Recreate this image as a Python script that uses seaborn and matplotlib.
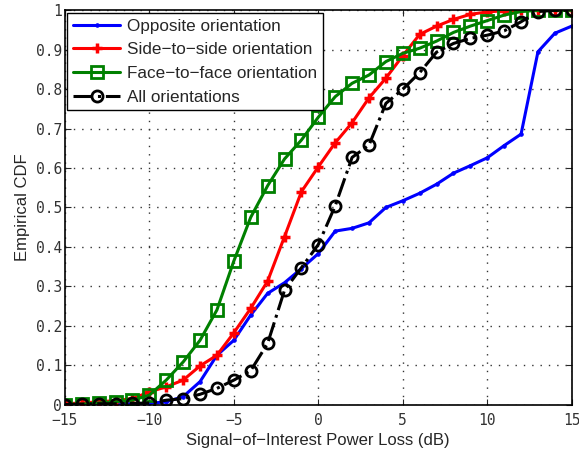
import seaborn as sns
import matplotlib.pyplot as plt
import pandas as pd
import numpy as np

# Signal-of-interest power loss grid (dB)
loss_db = list(range(-15, 16))

opposite = [0.000, 0.000, 0.000, 0.001, 0.002, 0.003, 0.007, 0.020, 0.058, 0.125,
            0.163, 0.227, 0.282, 0.309, 0.345, 0.383, 0.440, 0.447, 0.461, 0.500,
            0.517, 0.536, 0.559, 0.587, 0.606, 0.626, 0.657, 0.686, 0.895, 0.942, 0.960]
side_to_side = [0.002, 0.004, 0.007, 0.010, 0.015, 0.032, 0.045, 0.062, 0.098, 0.125,
                0.182, 0.244, 0.313, 0.426, 0.540, 0.603, 0.664, 0.715, 0.778, 0.828,
                0.885, 0.939, 0.960, 0.977, 0.990, 0.996, 0.999, 1.000, 1.000, 1.000, 1.000]
face_to_face = [0.000, 0.001, 0.004, 0.007, 0.011, 0.024, 0.062, 0.108, 0.163, 0.240,
                0.364, 0.475, 0.555, 0.623, 0.671, 0.729, 0.781, 0.815, 0.836, 0.870,
                0.891, 0.904, 0.922, 0.944, 0.960, 0.974, 0.988, 0.997, 1.000, 1.000, 1.000]
all_orient = [0.000, 0.001, 0.002, 0.002, 0.003, 0.004, 0.011, 0.015, 0.026, 0.041,
              0.062, 0.086, 0.155, 0.290, 0.347, 0.406, 0.504, 0.627, 0.658, 0.764,
              0.800, 0.842, 0.894, 0.916, 0.929, 0.937, 0.948, 0.971, 0.997, 1.000, 1.000]

names = ["Opposite orientation", "Side\u2212to\u2212side orientation",
         "Face\u2212to\u2212face orientation", "All orientations"]
series = [opposite, side_to_side, face_to_face, all_orient]

df = pd.concat([pd.DataFrame({"loss": loss_db, "cdf": v, "case": n})
                for n, v in zip(names, series)], ignore_index=True)

styles = {
    names[0]: dict(color=(0, 0, 1), marker=".", markersize=5, linestyle="-",
                   markerfacecolor=(0, 0, 1), markeredgecolor=(0, 0, 1)),
    names[1]: dict(color=(1, 0, 0), marker="+", markersize=7, linestyle="-",
                   markeredgewidth=2.5, markeredgecolor=(1, 0, 0)),
    names[2]: dict(color=(0, 0.5, 0), marker="s", markersize=8, linestyle="-",
                   markerfacecolor="none", markeredgewidth=2, markeredgecolor=(0, 0.5, 0)),
    names[3]: dict(color="black", marker="o", markersize=8, linestyle="-.",
                   markerfacecolor="none", markeredgewidth=2, markeredgecolor="black"),
}

sns.set_style("ticks")
plt.rcParams["font.family"] = ["Liberation Sans", "DejaVu Sans"]

fig = plt.figure(figsize=(5.79, 4.5), dpi=100)
ax = fig.add_axes([0.112, 0.101, 0.8755, 0.876])

for n in names:
    sub = df[df["case"] == n]
    sns.lineplot(data=sub, x="loss", y="cdf", ax=ax, label=n, linewidth=2.2,
                 estimator=None, sort=False, **styles[n])

ax.set_xlim(-15, 15)
ax.set_ylim(0, 1)
ax.set_xticks(np.arange(-15, 16, 5))
ax.set_yticks(np.arange(0, 1.01, 0.1))
ax.set_yticklabels(["0", "0.1", "0.2", "0.3", "0.4", "0.5", "0.6", "0.7", "0.8", "0.9", "1"])
for lab in ax.get_xticklabels() + ax.get_yticklabels():
    lab.set_fontfamily("DejaVu Sans Mono")
    lab.set_fontsize(10.5)
    lab.set_color("#333333")
ax.tick_params(direction="in", length=4, width=0.8, top=True, right=True)
ax.tick_params(axis="x", pad=6)
ax.tick_params(axis="y", pad=2)
ax.grid(True, linestyle=(0, (1, 5)), color="#333333", linewidth=1.0)
for s in ax.spines.values():
    s.set_visible(True)
    s.set_linewidth(1.2)
    s.set_color("black")

ax.set_xlabel("Signal\u2212of\u2212Interest Power Loss (dB)", fontsize=12, labelpad=4)
ax.set_ylabel("Empirical CDF", fontsize=12, labelpad=4)

leg = ax.legend(loc="upper left", fontsize=12.3, frameon=True, fancybox=False,
                borderaxespad=0.15, handlelength=2.75, labelspacing=0.5,
                borderpad=0.35, handletextpad=0.4)
leg.get_frame().set_edgecolor("black")
leg.get_frame().set_linewidth(1.0)
leg.get_frame().set_alpha(1)

plt.savefig("out.png", dpi=100)
